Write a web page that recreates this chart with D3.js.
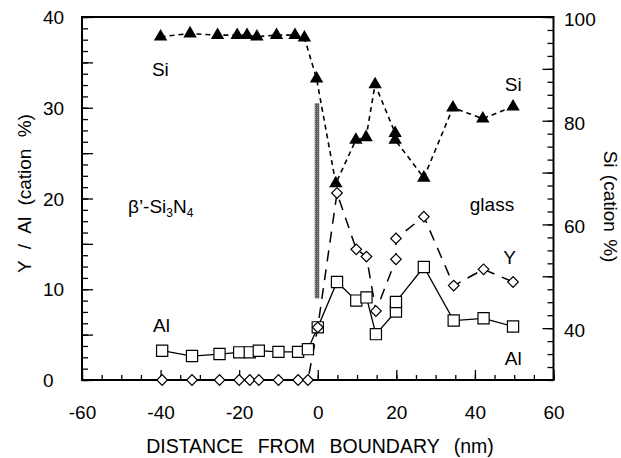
<!DOCTYPE html>
<html>
<head>
<meta charset="utf-8">
<script src="https://cdn.jsdelivr.net/npm/d3@7"></script>
<style>
  html, body { margin: 0; padding: 0; background: #fff; }
  svg { display: block; font-family: "Liberation Sans", Arial, Helvetica, sans-serif; }
</style>
</head>
<body>
<svg id="chart" width="621" height="458"></svg>
<script>
// Composition profile across a β'-Si3N4 / glass boundary.
// Distance from boundary (nm) for the Si measurements
const siDistance = [-40, -32.5, -25.5, -20.5, -18, -15.5, -10.5, -5.8, -3.4,
                    -0.3, 4.6, 9.7, 12.3, 14.6, 19.7, 19.7, 27.0, 34.4, 42.0, 49.7];
// Si content (cation %), right axis
const siCation = [96.2, 96.8, 96.5, 96.5, 96.5, 96.2, 96.5, 96.5, 96.0,
                  88.1, 67.9, 76.3, 76.8, 87.0, 77.6, 76.3, 69.0, 82.5, 80.4, 82.7];

// Distance from boundary (nm) for the Y and Al measurements
const yAlDistance = [-39.6, -32, -25, -20, -17.3, -15, -10, -5, -2.5,
                     0, 4.9, 9.8, 12.4, 14.8, 19.9, 19.9, 27.0, 34.6, 42.2, 49.7];
// Al content (cation %), left axis
const alCation = [3.23, 2.64, 2.86, 3.05, 3.05, 3.23, 3.1, 3.1, 3.4,
                  5.8, 10.8, 8.75, 9.1, 5.05, 7.55, 8.6, 12.45, 6.55, 6.8, 5.9];
// Y content (cation %), left axis
const yCation = [0, 0, 0, 0, 0, 0, 0, 0, 0,
                 5.8, 20.6, 14.4, 13.6, 7.6, 13.3, 15.6, 18.0, 10.4, 12.2, 10.8];

// Axis ticks
const xTickLabels = [-60, -40, -20, 0, 20, 40, 60];
const leftTickLabels = [0, 10, 20, 30, 40];
const rightTickLabels = [40, 60, 80, 100];

// Boundary band (extent in Y/Al cation %) drawn at the interface
const boundaryPos = -0.2;
const boundaryExtent = [9.0, 30.5];

// In-plot labels, placed in data units (x in nm, y in Y/Al cation %)
const annotations = [
  { text: "Si",    x: -42.2, y: 33.5 },
  { text: "glass", x: 38.7,  y: 18.6 },
  { text: "Si",    x: 47.6,  y: 31.9 },
  { text: "Y",     x: 47.2,  y: 12.8 },
  { text: "Al",    x: -41.9, y: 5.3 },
  { text: "Al",    x: 47.6,  y: 1.65 }
];

const svg = d3.select("#chart");
svg.append("rect").attr("width", 621).attr("height", 458).attr("fill", "#fff");

const x  = d3.scaleLinear().domain([-60, 60]).range([82, 553.5]);
const yL = d3.scaleLinear().domain([0, 40]).range([380, 17]);
const yR = d3.scaleLinear().domain([30, 100]).range([380, 17]);

const FONT = 19;

function styleAxis(g) {
  g.attr("font-size", null).attr("font-family", null);
  g.select(".domain").remove();
  g.selectAll(".tick line").attr("stroke", "#000").attr("stroke-width", 1.3);
  g.selectAll(".tick text").attr("fill", "#000").style("font-size", FONT + "px");
}

// ---- left axis (Y / Al) : minor every 1.25, major every 5, labels every 10
svg.append("g").attr("transform", `translate(${x(-60)},0)`)
  .call(d3.axisLeft(yL).tickValues(d3.range(0, 40.001, 1.25))
        .tickSizeInner(-6).tickSizeOuter(0).tickFormat(""))
  .call(styleAxis);
svg.append("g").attr("transform", `translate(${x(-60)},0)`)
  .call(d3.axisLeft(yL).tickValues(d3.range(0, 40.001, 5))
        .tickSizeInner(-11).tickSizeOuter(0)
        .tickFormat(d => leftTickLabels.includes(d) ? String(d) : ""))
  .call(styleAxis)
  .call(g => g.selectAll(".tick text")
        .attr("text-anchor", "start").attr("x", 43 - x(-60)).attr("dy", "0.35em"));

// ---- right axis (Si) : minor every 2.5, major every 10, labels every 20
svg.append("g").attr("transform", `translate(${x(60)},0)`)
  .call(d3.axisRight(yR).tickValues(d3.range(30, 100.001, 2.5))
        .tickSizeInner(-6).tickSizeOuter(0).tickFormat(""))
  .call(styleAxis);
svg.append("g").attr("transform", `translate(${x(60)},0)`)
  .call(d3.axisRight(yR).tickValues(d3.range(40, 100.001, 10))
        .tickSizeInner(-11).tickSizeOuter(0).tickPadding(10.5)
        .tickFormat(d => rightTickLabels.includes(d) ? String(d) : ""))
  .call(styleAxis)
  .call(g => g.selectAll(".tick text").attr("dy", "0.44em"));

// ---- bottom axis : minor every 5, major every 20
svg.append("g").attr("transform", `translate(0,${yL(0)})`)
  .call(d3.axisBottom(x).tickValues(d3.range(-60, 60.001, 5))
        .tickSizeInner(-5).tickSizeOuter(0).tickFormat(""))
  .call(styleAxis);
svg.append("g").attr("transform", `translate(0,${yL(0)})`)
  .call(d3.axisBottom(x).tickValues(xTickLabels)
        .tickSizeInner(-10).tickSizeOuter(0).tickPadding(26)
        .tickFormat(d => String(d)))
  .call(styleAxis);

// ---- frame
svg.append("rect")
  .attr("x", x(-60)).attr("y", yL(40))
  .attr("width", x(60) - x(-60)).attr("height", yL(0) - yL(40))
  .attr("fill", "none").attr("stroke", "#000").attr("stroke-width", 2);

// ---- axis titles
svg.append("text")
  .attr("transform", `translate(31,${193.5}) rotate(-90)`)
  .attr("text-anchor", "middle")
  .style("font-size", FONT + "px").style("word-spacing", "6px")
  .text("Y / Al (cation %)");

svg.append("text")
  .attr("transform", `translate(604,${206.5}) rotate(90)`)
  .attr("text-anchor", "middle")
  .style("font-size", FONT + "px").style("word-spacing", "2px")
  .text("Si (cation %)");

svg.append("text")
  .attr("x", 320).attr("y", 452.5)
  .attr("text-anchor", "middle")
  .style("font-size", "19.5px").style("word-spacing", "9px")
  .text("DISTANCE FROM BOUNDARY (nm)");

// ---- boundary band (textured grey)
const defs = svg.append("defs");
const pat = defs.append("pattern").attr("id", "grain")
  .attr("width", 2).attr("height", 2).attr("patternUnits", "userSpaceOnUse");
pat.append("rect").attr("width", 2).attr("height", 2).attr("fill", "#585858");
pat.append("rect").attr("x", 1).attr("y", 1).attr("width", 1).attr("height", 1).attr("fill", "#a0a0a0");

svg.append("rect")
  .attr("x", x(boundaryPos) - 2.2).attr("width", 4.5)
  .attr("y", yL(boundaryExtent[1]))
  .attr("height", yL(boundaryExtent[0]) - yL(boundaryExtent[1]))
  .attr("fill", "url(#grain)");

// ---- series
const alPts = yAlDistance.map((d, i) => [d, alCation[i]]);
const yPts  = yAlDistance.map((d, i) => [d, yCation[i]]);
const siPts = siDistance.map((d, i) => [d, siCation[i]]);

const lineL = d3.line().x(d => x(d[0])).y(d => yL(d[1]));
const lineR = d3.line().x(d => x(d[0])).y(d => yR(d[1]));

svg.append("path").attr("d", lineL(alPts))
  .attr("fill", "none").attr("stroke", "#000").attr("stroke-width", 1.3);
svg.append("path").attr("d", lineL(yPts))
  .attr("fill", "none").attr("stroke", "#000").attr("stroke-width", 1.5)
  .attr("stroke-dasharray", "11,8");
svg.append("path").attr("d", lineR(siPts))
  .attr("fill", "none").attr("stroke", "#000").attr("stroke-width", 1.6)
  .attr("stroke-dasharray", "5,4");

// markers
svg.append("g").selectAll("path").data(alPts).join("path")
  .attr("d", d3.symbol(d3.symbolSquare, 125))
  .attr("transform", d => `translate(${x(d[0])},${yL(d[1])})`)
  .attr("fill", "#fff").attr("stroke", "#000").attr("stroke-width", 1.2);

svg.append("g").selectAll("path").data(yPts).join("path")
  .attr("d", d3.symbol(d3.symbolSquare, 56))
  .attr("transform", d => `translate(${x(d[0])},${yL(d[1])}) rotate(45)`)
  .attr("fill", "#fff").attr("stroke", "#000").attr("stroke-width", 1.2);

svg.append("g").selectAll("path").data(siPts).join("path")
  .attr("d", d3.symbol(d3.symbolTriangle, 78))
  .attr("transform", d => `translate(${x(d[0])},${yR(d[1])})`)
  .attr("fill", "#000");

// ---- in-plot labels
svg.append("g").selectAll("text").data(annotations).join("text")
  .attr("x", d => x(d.x)).attr("y", d => yL(d.y))
  .style("font-size", FONT + "px")
  .text(d => d.text);

// phase label with subscripts
const phase = svg.append("text")
  .attr("x", x(-48.3)).attr("y", yL(18.4))
  .style("font-size", FONT + "px");
phase.append("tspan").text("β’-Si");
phase.append("tspan").attr("dy", 4).style("font-size", "12px").text("3");
phase.append("tspan").attr("dy", -4).text("N");
phase.append("tspan").attr("dy", 4).style("font-size", "12px").text("4");
</script>
</body>
</html>
